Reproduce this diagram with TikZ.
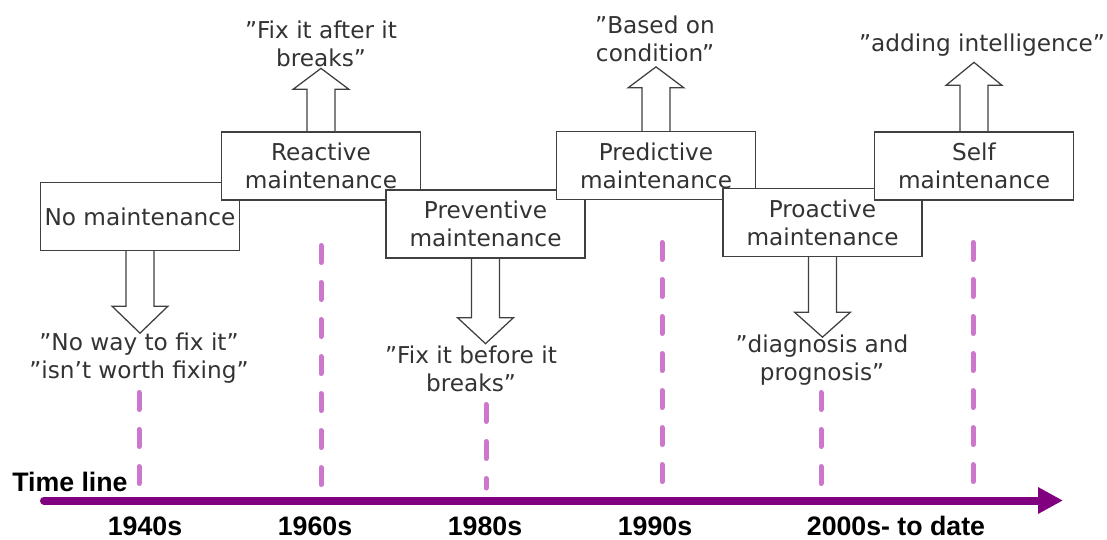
\documentclass[tikz,border=0pt]{standalone}
\usepackage{fontspec}
\setmainfont{DejaVu Sans}
\newfontfamily\yearfont{Liberation Sans}
\usetikzlibrary{arrows.meta,calc}

\definecolor{boxline}{HTML}{404040}
\definecolor{labeltext}{HTML}{333333}
\definecolor{timepurple}{HTML}{800080}
\definecolor{eraorchid}{HTML}{CC77CC}

% hollow block arrow leaving a box edge: start, signed shaft length, signed head length
\newcommand\blockarrow[3]{%
  \draw[blockarr] (#1) ++(-14,0) -- ++(0,#2) -- ++(-14,0) -- ++(28,#3)
    -- ++(28,{-(#3)}) -- ++(-14,0) -- ++(0,{-(#2)});}

\begin{document}
\begin{tikzpicture}[x=0.025cm, y=-0.025cm,
  stage/.style={draw=boxline, line width=0.9pt, fill=white,
    minimum width=4.975cm, minimum height=1.7cm, inner sep=0pt,
    align=center, text=labeltext,
    font=\fontsize{16.5pt}{20pt}\selectfont},
  saying/.style={align=center, text=labeltext, inner sep=0pt,
    font=\fontsize{16.5pt}{19.5pt}\selectfont},
  blockarr/.style={draw=boxline, line width=0.9pt, line join=miter},
  era/.style={draw=eraorchid, line width=0.125cm, line cap=round,
    dash pattern=on 0.425cm off 0.5cm},
  timeline/.style={draw=timepurple, line width=0.2cm, line cap=round,
    -{Triangle[length=0.625cm, width=0.625cm]}},
  year/.style={inner sep=0pt, text=black,
    font=\yearfont\bfseries\fontsize{19pt}{22pt}\selectfont}]

\useasboundingbox (0,0) rectangle (1107,540);

% era markers
\coordinate (e1a) at (139,392.5);  \coordinate (e1b) at (139,487);
\coordinate (e2a) at (321,245.5);  \coordinate (e2b) at (321,487);
\coordinate (e3a) at (486,404.5);  \coordinate (e3b) at (486,488);
\coordinate (e4a) at (662,242.5);  \coordinate (e4b) at (662,487);
\coordinate (e5a) at (821,392.5);  \coordinate (e5b) at (821,487);
\coordinate (e6a) at (973,242.5);  \coordinate (e6b) at (973,487);
\foreach \i in {1,...,6} \draw[era] (e\i a) -- (e\i b);

% time axis
\coordinate (tstart) at (44,500.5);
\coordinate (tend) at (1063,500.5);
\draw[timeline] (tstart) -- (tend);
\node[year, anchor=west] (tlabel) at (12,482) {Time line};
\node[year] (y1940) at (145,526) {1940s};
\node[year] (y1960) at (315,526) {1960s};
\node[year] (y1980) at (485,526) {1980s};
\node[year] (y1990) at (655,526) {1990s};
\node[year] (y2000) at (896,526) {2000s- to date};

% maintenance stages, each one laid over the previous
\node[stage] (none) at (140,216.5) {No maintenance};
\node[stage] (reactive) at (321,166) {Reactive\\maintenance};
\node[stage] (preventive) at (485.5,224) {Preventive\\maintenance};
\node[stage] (predictive) at (656,165.5) {Predictive\\maintenance};
\node[stage] (proactive) at (822.5,222.5) {Proactive\\maintenance};
\node[stage] (self) at (974,166) {Self\\maintenance};

% sayings
\node[saying] (q1) at (139,358) {”No way to fix it”\\”isn’t worth fixing”};
\node[saying] (q2) at (321,44) {”Fix it after it\\breaks”};
\node[saying] (q3) at (471,369) {”Fix it before it\\breaks”};
\node[saying] (q4) at (655,39) {”Based on\\condition”};
\node[saying] (q5) at (822,360) {”diagnosis and\\prognosis”};
\node[saying] (q6) at (982,45) {”adding intelligence”};

% block arrows from the stages to their sayings
\blockarrow{none.south}{55}{27}
\blockarrow{reactive.north}{-42}{-21}
\blockarrow{preventive.south}{59}{26}
\blockarrow{predictive.north}{-43}{-21}
\blockarrow{proactive.south}{55}{25}
\blockarrow{self.north}{-46}{-23}

\end{tikzpicture}
\end{document}
